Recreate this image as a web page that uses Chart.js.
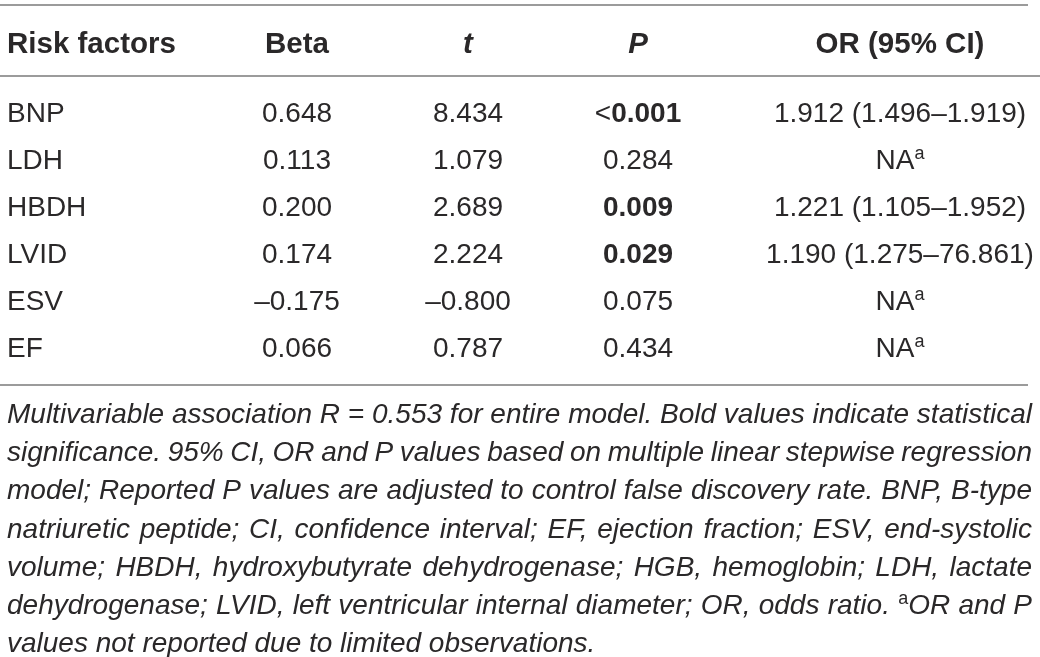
<!DOCTYPE html>
<html>
<head>
<meta charset="utf-8">
<script src="https://cdn.jsdelivr.net/npm/chart.js@4.4.1/dist/chart.umd.min.js"></script>
<style>
  html, body { margin: 0; padding: 0; background: #fff; }
  #wrap { width: 1040px; height: 657px; position: relative; }
</style>
</head>
<body>
<div id="wrap"><canvas id="table"></canvas></div>
<script>
// table data
const headers = ["Risk factors", "Beta", "t", "P", "OR (95% CI)"];
const riskFactors = ["BNP", "LDH", "HBDH", "LVID", "ESV", "EF"];
const betaValues = [0.648, 0.113, 0.200, 0.174, -0.175, 0.066];
const tValues = [8.434, 1.079, 2.689, 2.224, -0.800, 0.787];
const pValues = [0.001, 0.284, 0.009, 0.029, 0.075, 0.434];
const pBelow = [true, false, false, false, false, false];
const orValues = [1.912, null, 1.221, 1.190, null, null];
const ciLow = [1.496, null, 1.105, 1.275, null, null];
const ciHigh = [1.919, null, 1.952, 76.861, null, null];
const footnote = [
  "Multivariable association R = 0.553 for entire model. Bold values indicate statistical",
  "significance. 95% CI, OR and P values based on multiple linear stepwise regression",
  "model; Reported P values are adjusted to control false discovery rate. BNP, B-type",
  "natriuretic peptide; CI, confidence interval; EF, ejection fraction; ESV, end-systolic",
  "volume; HBDH, hydroxybutyrate dehydrogenase; HGB, hemoglobin; LDH, lactate",
  "dehydrogenase; LVID, left ventricular internal diameter; OR, odds ratio. ^aOR and P",
  "values not reported due to limited observations."
];

const FAMILY = "'Liberation Sans', Arial, sans-serif";
const INK = "#2a2829";
const RULE = "#9b9b9b";
const FS = 28;
const HEAD_FS = 29.5;
const NOTE_FS = 28;
// column anchors (px) and alignment
const colX = [7, 297, 468, 638, 900];
const colAlign = ["left", "center", "center", "center", "center"];

const fmt = v => (v < 0 ? "\u2013" : "") + Math.abs(v).toFixed(3);
const font = (style, weight, size) => `${style} ${weight} ${size}px ${FAMILY}`;

// a run = {text, font, sup}
function runsWidth(ctx, runs) {
  let w = 0;
  runs.forEach(r => { ctx.font = r.font; w += ctx.measureText(r.text).width; });
  return w;
}
function drawRuns(ctx, runs, x, base, align) {
  const w = runsWidth(ctx, runs);
  let cx = align === "center" ? x - w / 2 : align === "right" ? x - w : x;
  runs.forEach(r => {
    ctx.font = r.font;
    ctx.fillText(r.text, cx, base - (r.sup || 0));
    cx += ctx.measureText(r.text).width;
  });
}

function cellRuns(col, i) {
  const reg = font("normal", "normal", FS);
  const bold = font("normal", "bold", FS);
  const sup = { text: "a", font: font("normal", "normal", 18), sup: 10 };
  if (col === 0) return [{ text: riskFactors[i], font: reg }];
  if (col === 1) return [{ text: fmt(betaValues[i]), font: reg }];
  if (col === 2) return [{ text: fmt(tValues[i]), font: reg }];
  if (col === 3) {
    const f = pValues[i] < 0.05 ? bold : reg;
    const runs = [];
    if (pBelow[i]) runs.push({ text: "<", font: reg });
    runs.push({ text: pValues[i].toFixed(3), font: f });
    return runs;
  }
  if (orValues[i] == null) return [{ text: "NA", font: reg }, sup];
  return [{ text: `${orValues[i].toFixed(3)} (${ciLow[i].toFixed(3)}\u2013${ciHigh[i].toFixed(3)})`, font: reg }];
}

function wordRuns(word, f) {
  if (word.startsWith("^a")) {
    return [{ text: "a", font: font("normal", "normal", 18), sup: 10 }, { text: word.slice(2), font: f }];
  }
  return [{ text: word, font: f }];
}

const tablePlugin = {
  id: "tableText",
  afterDraw(chart) {
    const ctx = chart.ctx;
    const y = chart.scales.y;
    const left = chart.chartArea.left, right = chart.chartArea.right;
    const row0 = y.getPixelForTick(0);
    const rowH = y.getPixelForTick(1) - row0;
    const rowLast = y.getPixelForTick(riskFactors.length - 1);
    const capHalf = FS * 0.37;

    ctx.save();
    // rules
    ctx.strokeStyle = RULE;
    ctx.lineWidth = 2;
    const hLine = (yy, x1, x2) => { ctx.beginPath(); ctx.moveTo(x1, yy); ctx.lineTo(x2, yy); ctx.stroke(); };
    const topRule = 5;
    const headRule = Math.round(row0 - 0.76 * rowH);
    const bottomRule = Math.round(rowLast + 0.8 * rowH);
    hLine(topRule, left, right - 12);
    hLine(headRule, left, right);
    hLine(bottomRule, left, right - 12);

    ctx.fillStyle = INK;
    ctx.textBaseline = "alphabetic";
    // header
    const headBase = row0 - 1.49 * rowH + HEAD_FS * 0.36;
    headers.forEach((h, c) => {
      const italic = (h === "t" || h === "P") ? "italic" : "normal";
      drawRuns(ctx, [{ text: h, font: font(italic, "bold", HEAD_FS) }], colX[c], headBase, colAlign[c]);
    });
    // body cells
    riskFactors.forEach((_, i) => {
      const base = y.getPixelForTick(i) + capHalf;
      headers.forEach((_, c) => drawRuns(ctx, cellRuns(c, i), colX[c], base, colAlign[c]));
    });

    // footnote, justified
    const noteFont = font("italic", "normal", NOTE_FS);
    const nLeft = left + 7, nRight = right - 8;
    const lineH = 38.2;
    let base = bottomRule + 38;
    footnote.forEach((line, li) => {
      const words = line.split(" ").map(w => wordRuns(w, noteFont));
      ctx.font = noteFont;
      const space = ctx.measureText(" ").width;
      const widths = words.map(r => runsWidth(ctx, r));
      const total = widths.reduce((a, b) => a + b, 0);
      const last = li === footnote.length - 1;
      const gap = last ? space : (nRight - nLeft - total) / (words.length - 1);
      let cx = nLeft;
      words.forEach((r, k) => {
        drawRuns(ctx, r, cx, base, "left");
        cx += widths[k] + gap;
      });
      base += lineH;
    });
    ctx.restore();
  }
};

new Chart(document.getElementById("table"), {
  type: "scatter",
  data: { datasets: [] },
  options: {
    responsive: true,
    maintainAspectRatio: false,
    animation: false,
    events: [],
    layout: { padding: { top: 88.5, bottom: 286.5, left: 0, right: 0 } },
    plugins: { legend: { display: false }, tooltip: { enabled: false } },
    scales: {
      x: { type: "linear", min: 0, max: 1040, display: false },
      y: { type: "category", labels: riskFactors, offset: true, display: false }
    }
  },
  plugins: [tablePlugin]
});
</script>
</body>
</html>
